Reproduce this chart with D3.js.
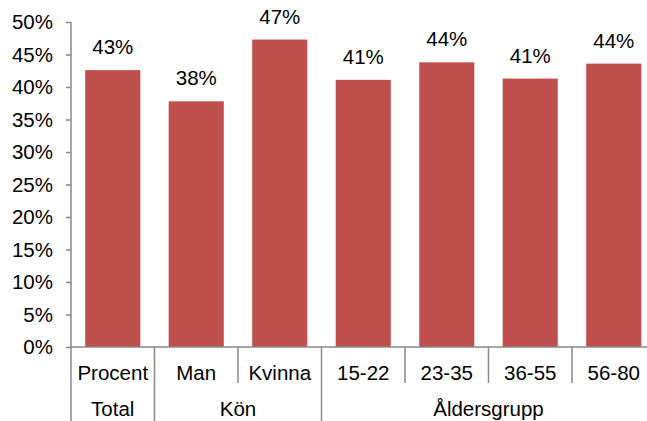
<!DOCTYPE html>
<html>
<head>
<meta charset="utf-8">
<script src="https://cdn.jsdelivr.net/npm/d3@7"></script>
<style>
  html, body { margin: 0; padding: 0; background: #fff; }
  svg { display: block; font-family: "Liberation Sans", Arial, sans-serif; }
</style>
</head>
<body>
<svg id="chart" width="647" height="421"></svg>
<script>
const categories = ["Procent", "Man", "Kvinna", "15-22", "23-35", "36-55", "56-80"];
const values = [0.426, 0.378, 0.473, 0.411, 0.438, 0.413, 0.436];
const groups = ["Total", "Kön", "Åldersgrupp"];
const groupSizes = [1, 2, 4];
const yTicks = [0, 0.05, 0.10, 0.15, 0.20, 0.25, 0.30, 0.35, 0.40, 0.45, 0.50];

(function () {
const svg = d3.select("#chart");
const mLeft = 71, mBottom = 347, mTop = 22;
const step = 83.5;
const mRight = mLeft + step * categories.length;
const fs = 20.5;

const x = d3.scaleBand().domain(categories).range([mLeft, mRight])
  .paddingInner(0.34).paddingOuter(0.17);
const y = d3.scaleLinear().domain([0, 0.5]).range([mBottom, mTop]);

const axisColor = "#898989";
const fmt = d3.format(".0%");

// Bars
svg.append("g").selectAll("rect").data(categories).join("rect")
  .attr("x", d => x(d))
  .attr("y", (d, i) => y(values[i]))
  .attr("width", x.bandwidth())
  .attr("height", (d, i) => y(0) - y(values[i]))
  .attr("fill", "#C0504D");

// Value labels
svg.append("g").selectAll("text").data(categories).join("text")
  .attr("x", d => x(d) + x.bandwidth() / 2)
  .attr("y", (d, i) => y(values[i]) - 16)
  .attr("text-anchor", "middle")
  .attr("font-size", fs)
  .attr("fill", "#000")
  .text((d, i) => fmt(values[i]));

// Y axis
const yAxis = d3.axisLeft(y).tickValues(yTicks).tickFormat(fmt).tickSize(5).tickPadding(13);
const gy = svg.append("g").attr("transform", `translate(${mLeft},0)`).call(yAxis);
gy.select(".domain").remove();
gy.selectAll(".tick line").attr("stroke", axisColor).attr("stroke-width", 1.5);
gy.selectAll(".tick text").attr("font-size", fs).attr("fill", "#000")
  .attr("font-family", "Liberation Sans, Arial, sans-serif");
svg.append("line").attr("x1", mLeft).attr("x2", mLeft).attr("y1", mTop).attr("y2", 421)
  .attr("stroke", axisColor).attr("stroke-width", 1.5);

// X axis baseline
svg.append("line").attr("x1", mLeft).attr("x2", mRight).attr("y1", mBottom).attr("y2", mBottom)
  .attr("stroke", axisColor).attr("stroke-width", 1.5);

// Category separators
const groupBounds = [];
let acc = 0;
groupSizes.forEach(s => { acc += s; groupBounds.push(acc); });
for (let i = 1; i <= categories.length; i++) {
  const xb = mLeft + i * step;
  const full = groupBounds.includes(i);
  svg.append("line").attr("x1", xb).attr("x2", xb).attr("y1", mBottom)
    .attr("y2", full ? 421 : 383)
    .attr("stroke", axisColor).attr("stroke-width", 1.5);
}

// Category labels
svg.append("g").selectAll("text").data(categories).join("text")
  .attr("x", d => x(d) + x.bandwidth() / 2)
  .attr("y", 380)
  .attr("text-anchor", "middle")
  .attr("font-size", fs)
  .attr("fill", "#000")
  .text(d => d);

// Group labels
let start = 0;
groups.forEach((g, gi) => {
  const x0 = mLeft + start * step;
  const x1 = mLeft + (start + groupSizes[gi]) * step;
  svg.append("text")
    .attr("x", (x0 + x1) / 2)
    .attr("y", 416)
    .attr("text-anchor", "middle")
    .attr("font-size", fs)
    .attr("fill", "#000")
    .text(g);
  start += groupSizes[gi];
});
})();
</script>
</body>
</html>
